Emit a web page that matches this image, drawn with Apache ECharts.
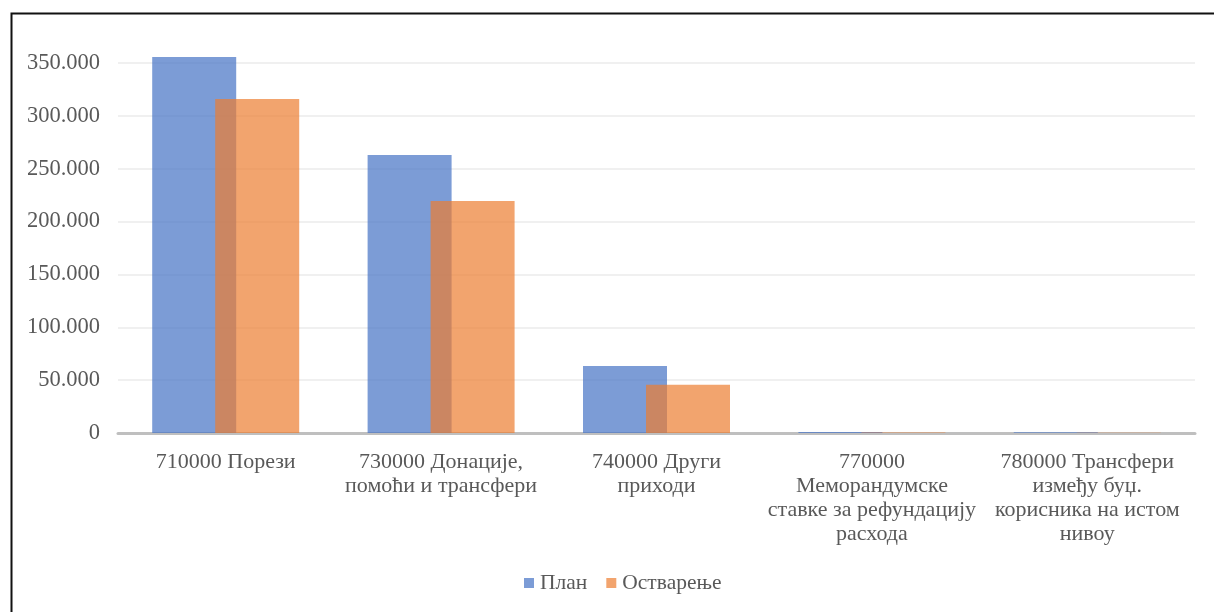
<!DOCTYPE html>
<html>
<head>
<meta charset="utf-8">
<script src="https://cdn.jsdelivr.net/npm/echarts@6/dist/echarts.min.js"></script>
<style>
  html, body { margin: 0; padding: 0; background: #fff; }
  #chart { width: 1214px; height: 612px; }
</style>
</head>
<body>
<div id="chart"></div>
<script>
// Categories of revenue (economic classification codes)
const categories = [
  '710000 Порези',
  '730000 Донације,\nпомоћи и трансфери',
  '740000 Други\nприходи',
  '770000\nМеморандумске\nставке за рефундацију\nрасхода',
  '780000 Трансфери\nизмеђу буџ.\nкорисника на истом\nнивоу'
];
const seriesNames = ['План', 'Остварење'];
const planValues = [355700, 263000, 63400, 900, 700];
const actualValues = [316000, 219500, 45700, 400, 300];
const yTicks = { min: 0, max: 350000, interval: 50000 };

const FONT = '"Liberation Serif", "Times New Roman", serif';
const TEXT = '#595959';

function dotThousands(v) {
  return String(v).replace(/\B(?=(\d{3})+(?!\d))/g, '.');
}

const chart = echarts.init(document.getElementById('chart'), null, { renderer: 'canvas' });

chart.setOption({
  animation: false,
  backgroundColor: '#ffffff',
  graphic: [{
    type: 'rect',
    left: 9, top: 11,
    shape: { width: 1260, height: 660 },
    style: { fill: 'none', stroke: '#111', lineWidth: 2 },
    silent: true,
    z: 100
  }],
  grid: { left: 118, right: 19, top: 63, bottom: 179, containLabel: false },
  legend: {
    bottom: 18,
    left: 524,
    padding: 0,
    itemWidth: 10,
    itemHeight: 10,
    itemGap: 19,
    icon: 'rect',
    textStyle: { fontFamily: FONT, fontSize: 21.5, color: TEXT, padding: [0, 0, 0, 1] },
    data: seriesNames
  },
  xAxis: {
    type: 'category',
    data: categories,
    axisLine: { show: true, lineStyle: { color: '#bfbfbf', width: 3 } },
    axisTick: { show: false },
    axisLabel: {
      interval: 0,
      margin: 17,
      fontFamily: FONT,
      fontSize: 22,
      lineHeight: 24,
      color: TEXT,
      align: 'center'
    }
  },
  yAxis: {
    type: 'value',
    min: yTicks.min,
    max: yTicks.max,
    interval: yTicks.interval,
    axisLine: { show: false },
    axisTick: { show: false },
    splitLine: { lineStyle: { color: '#ebebeb', width: 1.5 } },
    axisLabel: {
      margin: 18,
      fontFamily: FONT,
      fontSize: 22.5,
      color: TEXT,
      formatter: dotThousands
    }
  },
  series: [
    {
      name: seriesNames[0],
      type: 'bar',
      data: planValues,
      barWidth: 84,
      barGap: '-25%',
      clip: false,
      itemStyle: { color: '#4472C4', opacity: 0.7 }
    },
    {
      name: seriesNames[1],
      type: 'bar',
      data: actualValues,
      barWidth: 84,
      clip: false,
      itemStyle: { color: '#ED7D31', opacity: 0.7 }
    }
  ]
});
</script>
</body>
</html>
